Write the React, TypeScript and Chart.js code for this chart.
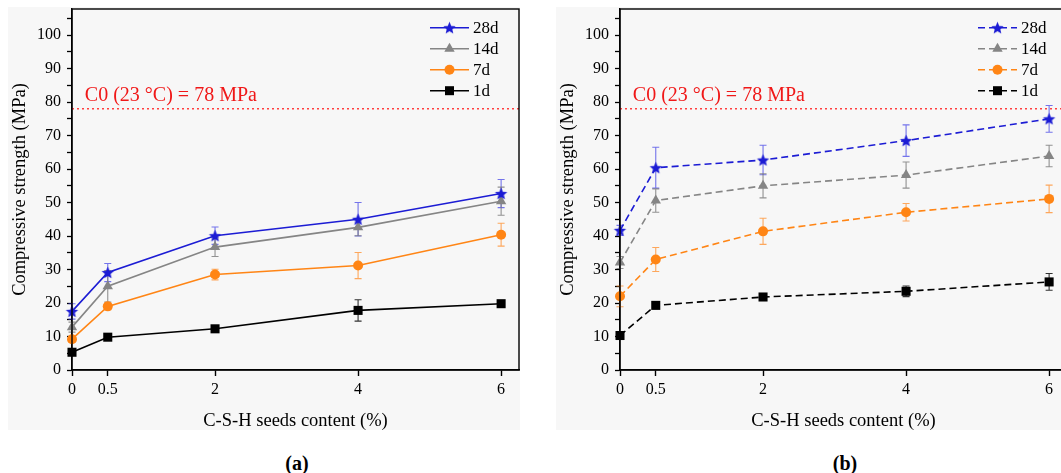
import React, { useEffect, useRef } from 'react';
import { Chart, registerables } from 'chart.js';

Chart.register(...registerables);

// ---------- data ----------
const xValues = [0, 0.5, 2, 4, 6];
const seriesLabels = ['28d', '14d', '7d', '1d'];
const xTickValues = [0, 0.5, 2, 4, 6];
const referenceValue = 78;
const referenceLabel = 'C0 (23 °C) = 78 MPa';
const xTitle = 'C-S-H seeds content (%)';
const yTitle = 'Compressive strength (MPa)';

// panel (a)
const a28 = [17.5, 29.1, 40.1, 45.0, 52.7];
const a28Err = [2.3, 2.7, 2.6, 5.0, 4.2];
const a14 = [12.8, 25.0, 36.7, 42.6, 50.4];
const a14Err = [1.5, 4.7, 2.8, 2.5, 4.2];
const a7 = [9.2, 19.0, 28.5, 31.2, 40.4];
const a7Err = [0.8, 1.0, 1.6, 3.9, 3.4];
const a1 = [5.3, 9.8, 12.3, 17.8, 19.8];
const a1Err = [0.4, 0.3, 0.4, 3.2, 0.5];

// panel (b)
const b28 = [41.7, 60.4, 62.7, 68.5, 75.0];
const b28Err = [1.5, 6.1, 4.4, 4.7, 4.0];
const b14 = [32.1, 50.6, 55.0, 58.2, 63.9];
const b14Err = [1.8, 3.5, 3.6, 3.9, 3.2];
const b7 = [22.0, 33.0, 41.4, 47.1, 51.1];
const b7Err = [3.1, 3.6, 3.9, 2.6, 4.1];
const b1 = [10.3, 19.3, 21.8, 23.5, 26.3];
const b1Err = [0.8, 0.5, 0.8, 1.6, 2.5];

// ---------- styles ----------
const FONT = '"Liberation Serif", "Times New Roman", serif';
const colors = ['#1c1cd4', '#858585', '#ff8515', '#000000'];
const errColors = ['rgba(60,60,230,0.7)', 'rgba(120,120,120,0.8)', 'rgba(255,140,40,0.75)', 'rgba(0,0,0,0.8)'];
const X_MAX = 6.25;
const Y_MAX = 107.8;

function makeStar(color: string, r: number) {
  const c = document.createElement('canvas');
  const s = Math.ceil(2 * r + 2);
  c.width = s;
  c.height = s;
  const ctx = c.getContext('2d')!;
  ctx.beginPath();
  for (let k = 0; k < 10; k++) {
    const ang = -Math.PI / 2 + (k * Math.PI) / 5;
    const rad = k % 2 === 0 ? r : r * 0.45;
    ctx.lineTo(s / 2 + rad * Math.cos(ang), s / 2 + rad * Math.sin(ang) + 0.5);
  }
  ctx.closePath();
  ctx.fillStyle = color;
  ctx.fill();
  return c;
}

function drawMarker(ctx: CanvasRenderingContext2D, kind: number, x: number, y: number, color: string, star: HTMLCanvasElement) {
  ctx.save();
  ctx.setLineDash([]);
  ctx.fillStyle = color;
  ctx.beginPath();
  if (kind === 0) {
    ctx.drawImage(star, x - star.width / 2, y - star.height / 2);
  } else if (kind === 1) {
    const r = 6;
    ctx.moveTo(x, y - r);
    ctx.lineTo(x - r * 0.866, y + r / 2);
    ctx.lineTo(x + r * 0.866, y + r / 2);
    ctx.closePath();
    ctx.fill();
  } else if (kind === 2) {
    ctx.arc(x, y, 5, 0, Math.PI * 2);
    ctx.fill();
  } else {
    ctx.rect(x - 4.5, y - 4.5, 9, 9);
    ctx.fill();
  }
  ctx.restore();
}

function buildConfig(values: number[][], errors: number[][], dashed: boolean): any {
  const star = makeStar(colors[0], 6.5);
  const pointStyles: any[] = [star, 'triangle', 'circle', 'rect'];
  const pointRadii = [6.5, 6, 5, 6.4];
  const dash = dashed ? [7, 4] : [];

  const datasets: any[] = values.map((vals, i) => ({
    label: seriesLabels[i],
    data: xValues.map((x, j) => ({ x, y: vals[j] })),
    errors: errors[i],
    borderColor: colors[i],
    backgroundColor: colors[i],
    borderWidth: 1.6,
    borderDash: dash,
    pointStyle: pointStyles[i],
    pointRadius: pointRadii[i],
    pointBorderWidth: 0,
    pointBackgroundColor: colors[i],
    pointBorderColor: colors[i],
    tension: 0,
    clip: false,
  }));
  datasets.push({
    label: 'ref',
    data: [
      { x: 0, y: referenceValue },
      { x: X_MAX, y: referenceValue },
    ],
    borderColor: '#ff4040',
    borderWidth: 1.5,
    borderDash: [2, 3],
    pointRadius: 0,
    isRef: true,
  });

  const errorBars = {
    id: 'errorBars',
    beforeDatasetsDraw(chart: any) {
      const { ctx, scales } = chart;
      const xs = scales.x;
      const ys = scales.y;
      chart.data.datasets.forEach((ds: any, i: number) => {
        if (!ds.errors) return;
        ctx.save();
        ctx.strokeStyle = errColors[i];
        ctx.lineWidth = 1.1;
        ds.data.forEach((p: any, j: number) => {
          const e = ds.errors[j];
          const px = xs.getPixelForValue(p.x);
          const yt = ys.getPixelForValue(p.y + e);
          const yb = ys.getPixelForValue(p.y - e);
          ctx.beginPath();
          ctx.moveTo(px, yt);
          ctx.lineTo(px, yb);
          ctx.moveTo(px - 3.5, yt);
          ctx.lineTo(px + 3.5, yt);
          ctx.moveTo(px - 3.5, yb);
          ctx.lineTo(px + 3.5, yb);
          ctx.stroke();
        });
        ctx.restore();
      });
    },
  };

  const frame = {
    id: 'frame',
    afterDraw(chart: any) {
      const { ctx, chartArea } = chart;
      ctx.save();
      ctx.strokeStyle = '#000';
      ctx.lineWidth = 1.4;
      ctx.strokeRect(chartArea.left, chartArea.top, chartArea.right - chartArea.left, chartArea.bottom - chartArea.top);
      ctx.restore();
    },
  };

  const decorations = {
    id: 'decorations',
    afterDatasetsDraw(chart: any) {
      const { ctx, chartArea, scales } = chart;
      // reference label
      ctx.save();
      ctx.font = `20px ${FONT}`;
      ctx.fillStyle = '#f01818';
      ctx.textBaseline = 'alphabetic';
      ctx.textAlign = 'left';
      ctx.fillText(referenceLabel, scales.x.getPixelForValue(0.18), scales.y.getPixelForValue(referenceValue) - 8);
      ctx.restore();
      // legend
      seriesLabels.forEach((lab, i) => {
        const y = chartArea.top + 18.7 + 21 * i;
        const x1 = chartArea.right - 89;
        const x2 = chartArea.right - 50;
        ctx.save();
        ctx.strokeStyle = colors[i];
        ctx.lineWidth = 1.6;
        ctx.setLineDash(dash);
        ctx.beginPath();
        ctx.moveTo(x1, y);
        ctx.lineTo(x2, y);
        ctx.stroke();
        ctx.restore();
        drawMarker(ctx, i, (x1 + x2) / 2, y, colors[i], star);
        ctx.save();
        ctx.font = `17px ${FONT}`;
        ctx.fillStyle = '#000';
        ctx.textBaseline = 'middle';
        ctx.textAlign = 'left';
        ctx.fillText(lab, chartArea.right - 46, y + 1);
        ctx.restore();
      });
    },
  };

  return {
    type: 'line',
    data: { datasets },
    plugins: [errorBars, decorations, frame],
    options: {
      animation: false,
      responsive: false,
      events: [],
      layout: { padding: { left: 0, top: 9, right: 11, bottom: 8 } },
      plugins: {
        legend: { display: false },
        tooltip: { enabled: false },
      },
      scales: {
        x: {
          type: 'linear',
          min: 0,
          max: X_MAX,
          afterBuildTicks: (scale: any) => {
            scale.ticks = xTickValues.map((v) => ({ value: v }));
          },
          afterFit: (scale: any) => {
            scale.height = 62;
            scale.paddingLeft = 0;
            scale.paddingRight = 0;
          },
          grid: { drawOnChartArea: false, drawTicks: true, tickLength: 6, color: '#000', tickWidth: 1.4 },
          border: { display: true, color: '#000', width: 1.4 },
          ticks: {
            autoSkip: false,
            maxRotation: 0,
            padding: 4,
            color: '#000',
            font: { family: FONT, size: 16 },
            callback: (v: any) => String(v),
          },
          title: {
            display: true,
            text: xTitle,
            color: '#000',
            font: { family: FONT, size: 18.5 },
            padding: { top: 0, bottom: 0 },
          },
        },
        y: {
          type: 'linear',
          min: 0,
          max: Y_MAX,
          afterFit: (scale: any) => {
            scale.width = 72;
            scale.paddingTop = 0;
            scale.paddingBottom = 0;
          },
          grid: { drawOnChartArea: false, drawTicks: true, tickLength: 5, color: '#000', tickWidth: 1.3 },
          border: { display: true, color: '#000', width: 1.4 },
          ticks: {
            stepSize: 5,
            includeBounds: false,
            autoSkip: false,
            padding: 6,
            color: '#000',
            font: { family: FONT, size: 16 },
            callback: (v: any) => (Number(v) % 10 === 0 ? String(v) : ''),
          },
          title: {
            display: true,
            text: yTitle,
            color: '#000',
            font: { family: FONT, size: 18.5 },
            padding: { top: 9, bottom: 0 },
          },
        },
      },
    },
  };
}

function Panel(props: { values: number[][]; errors: number[][]; dashed: boolean; left: number }) {
  const ref = useRef<HTMLCanvasElement | null>(null);
  useEffect(() => {
    if (!ref.current) return;
    const chart = new Chart(ref.current, buildConfig(props.values, props.errors, props.dashed));
    return () => chart.destroy();
  }, []);
  return (
    <canvas
      ref={ref}
      width={530}
      height={440}
      style={{ position: 'absolute', left: props.left, top: 0, width: 530, height: 440 }}
    />
  );
}

export default function App() {
  const labelStyle: React.CSSProperties = {
    position: 'absolute',
    top: 451,
    width: 60,
    textAlign: 'center',
    fontFamily: FONT,
    fontWeight: 'bold',
    fontSize: 20,
    lineHeight: '24px',
    color: '#000',
  };
  return (
    <div
      style={{
        position: 'fixed',
        left: 0,
        top: 0,
        width: 1061,
        height: 473,
        overflow: 'hidden',
        background: '#ffffff',
      }}
    >
      <div style={{ position: 'absolute', left: 8, top: 7, width: 512, height: 423, background: '#f7f7f7' }} />
      <div style={{ position: 'absolute', left: 556, top: 7, width: 505, height: 423, background: '#f7f7f7' }} />
      <Panel
        values={[a28, a14, a7, a1]}
        errors={[a28Err, a14Err, a7Err, a1Err]}
        dashed={false}
        left={0}
      />
      <Panel
        values={[b28, b14, b7, b1]}
        errors={[b28Err, b14Err, b7Err, b1Err]}
        dashed={true}
        left={548}
      />
      <div style={{ ...labelStyle, left: 267 }}>(a)</div>
      <div style={{ ...labelStyle, left: 815 }}>(b)</div>
    </div>
  );
}
